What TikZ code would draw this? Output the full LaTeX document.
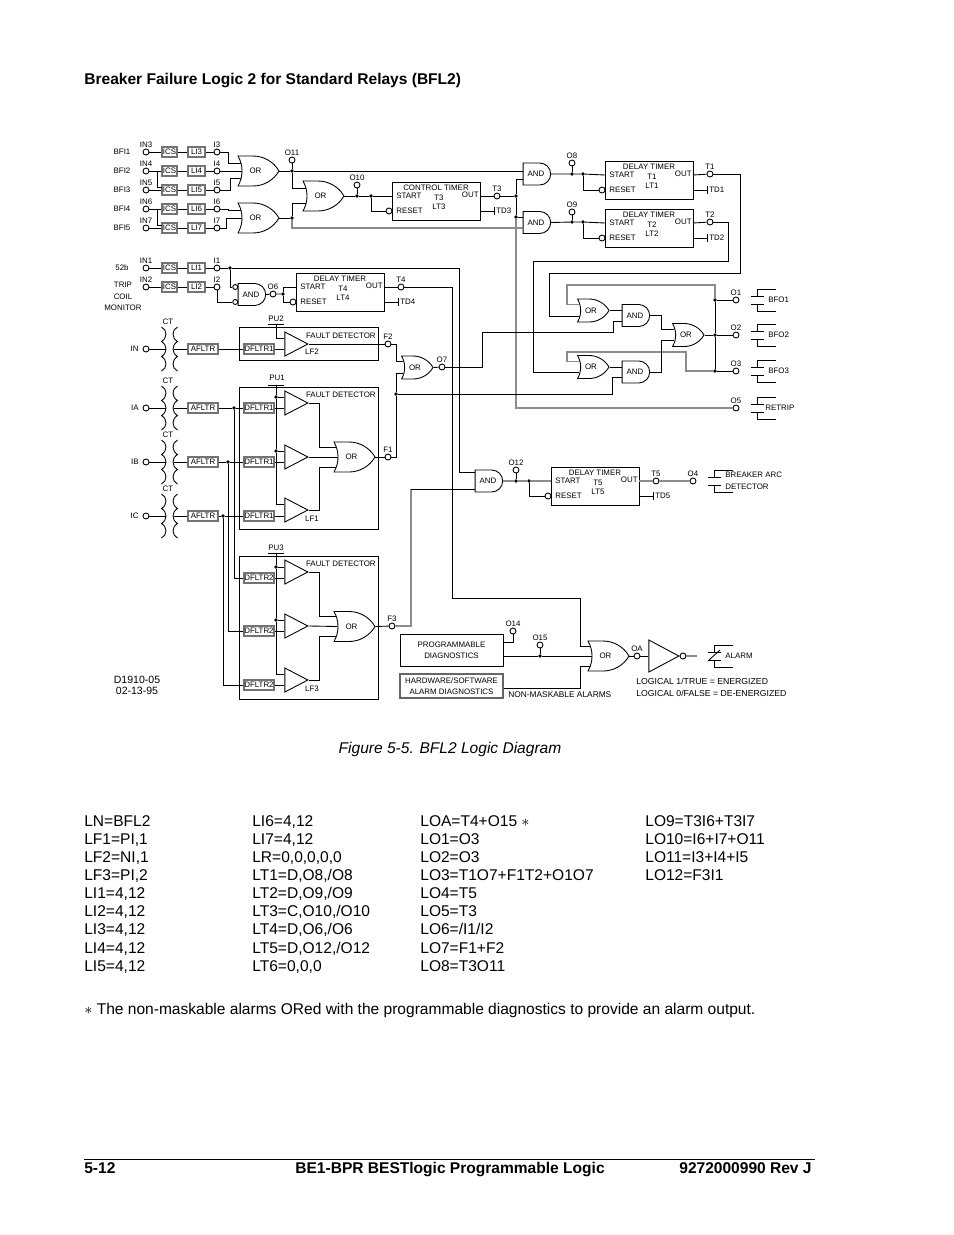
\documentclass[tikz,border=0pt]{standalone}
\usepackage{fontspec}
\setmainfont{Liberation Sans}
\usetikzlibrary{calc}
\usetikzlibrary{shapes.geometric, shapes.gates.logic.US}

\tikzset{
  wire/.style={line width=0.5pt},
  gwire/.style={line width=0.8pt, draw=black!45},
  lab/.style={font=\fontsize{4.5}{5.5}\selectfont, inner sep=0pt, align=center},
  body/.style={font=\fontsize{8.85}{10.27}\selectfont, inner sep=0pt, align=left, anchor=north west},
  tp/.style={circle, draw, line width=0.5pt, fill=white, inner sep=0pt, minimum size=0.12cm, label={[lab, label distance=0.02cm]above:#1}},
  bub/.style={circle, draw, line width=0.5pt, fill=white, inner sep=0pt, minimum size=0.12cm},
  dot/.style={circle, fill=black, inner sep=0pt, minimum size=0.075cm},
  fbox/.style={rectangle, draw=black!55, line width=0.7pt, inner sep=0pt, minimum width=#1, minimum height=0.2cm, lab},
  frame/.style={rectangle, draw, line width=0.5pt, anchor=north west, minimum width=2.78cm, minimum height=#1, inner sep=0pt},
  timer/.style={rectangle, draw, line width=0.5pt, anchor=north west, minimum width=1.76cm, minimum height=0.75cm, inner sep=0pt},
  blk/.style={rectangle, draw, line width=0.5pt, minimum width=2.06cm, minimum height=#1, inner sep=0pt, lab},
  gate/.style={draw, line width=0.5pt, lab, logic gate inverted radius=0.01cm},
  orbig/.style={or gate US, gate, logic gate inputs=nnn, logic gate input sep=0.15cm},
  orfive/.style={or gate US, gate, logic gate inputs=nnnnn, logic gate input sep=0.1cm},
  orsmall/.style={or gate US, gate, logic gate inputs=nnn, logic gate input sep=0.115cm},
  andsmall/.style={and gate US, gate, logic gate inputs=nnn, logic gate input sep=0.11cm},
  tri/.style={isosceles triangle, isosceles triangle stretches, draw, line width=0.5pt, anchor=apex, inner sep=0pt, minimum width=0.48cm, minimum height=0.46cm},
  coil/.pic={
    \draw[wire] (-8,-22) .. controls (-2,-19) and (-2,-11) .. (-8,-7.5) .. controls (-2,-4) and (-2,4) .. (-8,7.5) .. controls (-2,11) and (-2,19) .. (-8,22);
    \draw[wire] (8,-22) .. controls (2,-19) and (2,-11) .. (8,-7.5) .. controls (2,-4) and (2,4) .. (8,7.5) .. controls (2,11) and (2,19) .. (8,22);
    \coordinate (-w) at (-4,0);
    \coordinate (-e) at (4,0);
  },
  contact/.pic={
    \draw[wire] (-6.5,-4) -- (6.5,-4);
    \draw[wire] (-6.5,4) -- (6.5,4);
    \draw[wire] (0,-4) -- (0,-11) -- (19,-11);
    \draw[wire] (0,4) -- (0,11) -- (19,11);
  },
}

% start/reset box, with the test output bar beside it
\newcommand{\delaytimer}[7]{%
  \begin{scope}[shift={(#2,#3)}]
    \node[timer] (#1) at (0,0) {};
    \node[lab] (#1name) at (44,5.5) {#4};
    \node[lab, anchor=west] (#1st) at (4,14) {START};
    \node[lab, anchor=west] (#1rs) at (4,29) {RESET};
    \node[lab] (#1t) at (47,16) {#5};
    \node[lab] (#1lt) at (47,25) {#6};
    \node[lab, anchor=east] (#1ot) at (87,13) {OUT};
    \node[bub] (#1bub) at (-3,29) {};
    \coordinate (#1start) at (0,14);
    \coordinate (#1out) at (88,14);
    \coordinate (#1td) at (88,29);
    \coordinate (#1barT) at (102,25);
    \coordinate (#1barB) at (102,33);
    \coordinate (#1barM) at (102,29);
    \node[lab, anchor=west] (#1tdl) at (104,29) {#7};
    \draw[wire] (#1td) -- (#1barM);
    \draw[wire] (#1barT) -- (#1barB);
  \end{scope}
}

\begin{document}
\begin{tikzpicture}[x=0.02cm, y=-0.02cm]
  \useasboundingbox (0,0) rectangle (954,1235);
  \fill[white] (0,0) rectangle (954,1235);

  \node[anchor=base west, inner sep=0pt, font=\fontsize{8.85}{10}\selectfont\bfseries] (head) at (84,84) {Breaker Failure Logic 2 for Standard Relays (BFL2)};

  % inputs
  \node[lab] (bfi1) at (122,152) {BFI1};
  \node[lab] (bfi2) at (122,171) {BFI2};
  \node[lab] (bfi3) at (122,190) {BFI3};
  \node[lab] (bfi4) at (122,209) {BFI4};
  \node[lab] (bfi5) at (122,228) {BFI5};
  \node[lab] (l52b) at (122,268) {52b};
  \node[lab] (trip) at (123,296.5) {TRIP\\[1.2pt]COIL\\[1.2pt]MONITOR};

  \node[tp=IN3] (in3) at (146,152) {};
  \node[tp=IN4] (in4) at (146,171) {};
  \node[tp=IN5] (in5) at (146,190) {};
  \node[tp=IN6] (in6) at (146,209) {};
  \node[tp=IN7] (in7) at (146,228) {};
  \node[tp=IN1] (in1) at (146,268) {};
  \node[tp=IN2] (in2) at (146,287) {};

  \node[fbox=0.3cm] (ics3) at (169.5,152) {ICS};
  \node[fbox=0.3cm] (ics4) at (169.5,171) {ICS};
  \node[fbox=0.3cm] (ics5) at (169.5,190) {ICS};
  \node[fbox=0.3cm] (ics6) at (169.5,209) {ICS};
  \node[fbox=0.3cm] (ics7) at (169.5,228) {ICS};
  \node[fbox=0.3cm] (ics1) at (169.5,268) {ICS};
  \node[fbox=0.3cm] (ics2) at (169.5,287) {ICS};

  \node[fbox=0.34cm] (li3) at (196.5,152) {LI3};
  \node[fbox=0.34cm] (li4) at (196.5,171) {LI4};
  \node[fbox=0.34cm] (li5) at (196.5,190) {LI5};
  \node[fbox=0.34cm] (li6) at (196.5,209) {LI6};
  \node[fbox=0.34cm] (li7) at (196.5,228) {LI7};
  \node[fbox=0.34cm] (li1) at (196.5,268) {LI1};
  \node[fbox=0.34cm] (li2) at (196.5,287) {LI2};

  \node[tp=I3] (i3) at (217,152) {};
  \node[tp=I4] (i4) at (217,171) {};
  \node[tp=I5] (i5) at (217,190) {};
  \node[tp=I6] (i6) at (217,209) {};
  \node[tp=I7] (i7) at (217,228) {};
  \node[tp=I1] (i1) at (217,268) {};
  \node[tp=I2] (i2) at (217,287) {};

  \draw[wire] (in3) -- (ics3) -- (li3) -- (i3);
  \draw[wire] (in4) -- (ics4) -- (li4) -- (i4);
  \draw[wire] (in5) -- (ics5) -- (li5) -- (i5);
  \draw[wire] (in6) -- (ics6) -- (li6) -- (i6);
  \draw[wire] (in7) -- (ics7) -- (li7) -- (i7);
  \draw[wire] (in1) -- (ics1) -- (li1) -- (i1);
  \draw[wire] (in2) -- (ics2) -- (li2) -- (i2);

  \coordinate (tieA) at (157,171);
  \coordinate (tieB) at (162,187);
  \coordinate (tieC) at (157,209);
  \coordinate (tieD) at (162,225);
  \draw[wire] (tieA) |- (tieB);
  \draw[wire] (tieC) |- (tieD);

  % top gates
  \node[orbig] (orA) at (255.5,171) {OR};
  \node[orbig] (orB) at (255.5,218) {OR};
  \node[orbig] (orC) at (320.5,196) {OR};
  \node[andsmall] (andA) at (536,174) {AND};
  \node[andsmall] (andB) at (536,222.5) {AND};
  \node[dot] (jO11) at (292,171) {};
  \node[dot] (jOrB) at (292,218) {};
  \node[tp=O11] (o11) at (292,160) {};
  \node[dot] (jO10) at (357,196) {};
  \node[dot] (jCtl) at (371,196) {};
  \node[tp=O10] (o10) at (357,185) {};

  \delaytimer{tmC}{392}{182}{CONTROL TIMER}{T3}{LT3}{TD3}
  \delaytimer{tmA}{605}{161}{DELAY TIMER}{T1}{LT1}{TD1}
  \delaytimer{tmB}{605}{209}{DELAY TIMER}{T2}{LT2}{TD2}
  \delaytimer{tmD}{296}{273}{DELAY TIMER}{T4}{LT4}{TD4}
  \delaytimer{tmE}{551}{467}{DELAY TIMER}{T5}{LT5}{TD5}

  \draw[wire] (i3) -- ++(11,0) |- (orA.input 1);
  \draw[wire] (i4) -- (orA.input 2);
  \draw[wire] (i5) -- ++(13,0) |- (orA.input 3);
  \draw[wire] (i6) -- ++(11,0) |- (orB.input 1);
  \draw[wire] (i7) -- ++(9,0) |- (orB.input 2);
  \draw[wire] (orA.output) -- (jO11);
  \draw[wire] (orB.output) -- (jOrB);
  \draw[wire] (jO11) -- (o11);
  \draw[wire] (jO11) |- (orC.input 1);
  \draw[wire] (jOrB) |- (orC.input 3);
  \draw[wire] (jO11) -- (jO11 -| andA.input 1);
  \draw[gwire] (jOrB) |- (andB.input 3);
  \draw[wire] (orC.output) -- (jO10) -- (jCtl) -- (tmCstart);
  \draw[wire] (jO10) -- (o10);
  \draw[wire] (jCtl) |- (tmCbub);

  \node[tp=T3] (t3) at (497,196) {};
  \node[dot] (jT3) at (516,196) {};
  \node[dot] (jT3b) at (516,217) {};
  \draw[wire] (tmCout) -- (t3) -- (jT3);
  \draw[wire] (andA.input 3) -| (jT3);
  \draw[wire] (jT3) -- (jT3b);
  \draw[wire] (jT3b) -- (jT3b -| andB.input 1);

  \node[dot] (jO8) at (572,174) {};
  \node[dot] (jTmA) at (583,174) {};
  \node[tp=O8] (o8) at (572,163) {};
  \node[dot] (jO9) at (572,222) {};
  \node[dot] (jTmB) at (583,222) {};
  \node[tp=O9] (o9) at (572,212) {};
  \draw[wire] (andA.output) -- (jO8) -- (jTmA) -- (tmAstart);
  \draw[wire] (andB.output) -- (jO9) -- (jTmB) -- (tmBstart);
  \draw[wire] (jO8) -- (o8);
  \draw[wire] (jO9) -- (o9);
  \draw[wire] (jTmA) |- (tmAbub);
  \draw[wire] (jTmB) |- (tmBbub);
  \node[tp=T1] (t1) at (710,174) {};
  \node[tp=T2] (t2) at (710,222) {};
  \draw[wire] (tmAout) -- (t1);
  \draw[wire] (tmBout) -- (t2);

  % breaker failure outputs
  \node[orsmall] (orD) at (591,310.5) {OR};
  \node[andsmall] (andD) at (635,315.5) {AND};
  \node[orsmall] (orE) at (591,367) {OR};
  \node[andsmall] (andE) at (635,372) {AND};
  \node[orsmall] (orF) at (686,335) {OR};
  \node[dot] (jO1) at (715,300) {};
  \node[dot] (jO2) at (715,335) {};
  \node[dot] (jO3) at (715,371) {};
  \node[tp=O1] (o1) at (736,300) {};
  \node[tp=O2] (o2) at (736,335) {};
  \node[tp=O3] (o3) at (736,371) {};
  \node[tp=O5] (o5) at (736,408) {};

  \coordinate (t1R) at (740,273);
  \coordinate (t1L) at (549,273);
  \coordinate (t2R) at (728,261);
  \coordinate (t2L) at (533,261);
  \coordinate (topL) at (567,285);
  \coordinate (midR) at (686,352);
  \coordinate (midL) at (567,352);
  \coordinate (o7R) at (482,332);
  \coordinate (o7E) at (613,332);
  \coordinate (f1E) at (612,394);

  \draw[wire] (t1) -| (t1R) -- (t1L) |- (orD.input 3);
  \draw[wire] (t2) -| (t2R) -- (t2L) |- (orE.input 3);
  \draw[gwire] (jO1) |- (topL) |- (orD.input 1);
  \draw[gwire] (jO3) -| (midR) -- (midL) |- (orE.input 1);
  \draw[wire] (orD.output) -- (orD.output -| andD.input 1);
  \draw[wire] (orE.output) -- (orE.output -| andE.input 1);
  \draw[wire] (andD.output) -- ++(11,0) |- (orF.input 1);
  \draw[wire] (andE.output) -- ++(11,0) |- (orF.input 3);
  \draw[wire] (orF.output) -- (jO2);
  \draw[wire] (jO1) -- (jO2) -- (jO3);
  \draw[wire] (jO1) -- (o1);
  \draw[wire] (jO2) -- (o2);
  \draw[wire] (jO3) -- (o3);
  \draw[gwire] (jT3b) |- (o5);

  \pic (cA) at (757,300) {contact};
  \pic (cB) at (757,335) {contact};
  \pic (cC) at (757,371) {contact};
  \pic (cD) at (757,408) {contact};
  \node[lab, anchor=west] (bfo1) at (768,300) {BFO1};
  \node[lab, anchor=west] (bfo2) at (768,335) {BFO2};
  \node[lab, anchor=west] (bfo3) at (768,371) {BFO3};
  \node[lab, anchor=west] (retrip) at (765,408) {RETRIP};

  % 52b and trip coil
  \node[dot] (jI1) at (230,268) {};
  \node[andsmall] (andC) at (251,294.5) {AND};
  \node[bub, minimum size=0.1cm] (andCa) at ($(andC.input 1)+(-2.5,-2)$) {};
  \node[bub, minimum size=0.1cm] (andCb) at ($(andC.input 3)+(-2.5,2)$) {};
  \node[tp=O6] (o6) at (273,294) {};
  \node[dot] (jO6) at (283,294) {};
  \node[tp=T4] (t4) at (401,287) {};
  \coordinate (i1R) at (459,268);
  \coordinate (t4R) at (452,287);
  \coordinate (t4D) at (452,598);
  \coordinate (t4E) at (580,598);
  \draw[wire] (i1) -- (jI1) -- (i1R);
  \draw[wire] (jI1) |- (andCa);
  \draw[wire] (i2) |- (andCb);
  \draw[wire] (andC.output) -- (o6) -- (jO6);
  \draw[wire] (jO6) |- (tmDstart);
  \draw[wire] (jO6) |- (tmDbub);
  \draw[wire] (tmDout) -- (t4) -- (t4R);

  % fault detectors
  \node[frame=0.66cm] (fdA) at (239,327) {};
  \node[frame=2.84cm] (fdB) at (239,387) {};
  \node[frame=2.86cm] (fdC) at (239,556) {};
  \node[lab, anchor=east] (fdAt) at (376,336) {FAULT DETECTOR};
  \node[lab, anchor=east] (fdBt) at (376,395) {FAULT DETECTOR};
  \node[lab, anchor=east] (fdCt) at (376,564) {FAULT DETECTOR};

  \node[lab] (ctA) at (168,322) {CT};
  \node[lab] (ctB) at (168,381) {CT};
  \node[lab] (ctC) at (168,435) {CT};
  \node[lab] (ctD) at (168,489) {CT};
  \pic (cfA) at (169.5,349) {coil};
  \pic (cfB) at (169.5,408) {coil};
  \pic (cfC) at (169.5,462) {coil};
  \pic (cfD) at (169.5,516) {coil};
  \node[lab, anchor=east] (lIN) at (139,349) {IN};
  \node[lab, anchor=east] (lIA) at (139,408) {IA};
  \node[lab, anchor=east] (lIB) at (139,462) {IB};
  \node[lab, anchor=east] (lIC) at (139,516) {IC};
  \node[bub] (bIN) at (146,349) {};
  \node[bub] (bIA) at (146,408) {};
  \node[bub] (bIB) at (146,462) {};
  \node[bub] (bIC) at (146,516) {};
  \node[fbox=0.6cm] (afA) at (203,349) {AFLTR};
  \node[fbox=0.6cm] (afB) at (203,408) {AFLTR};
  \node[fbox=0.6cm] (afC) at (203,462) {AFLTR};
  \node[fbox=0.6cm] (afD) at (203,516) {AFLTR};
  \node[fbox=0.6cm] (dfA) at (259,349) {DFLTR1};
  \node[fbox=0.6cm] (dfB) at (259,408) {DFLTR1};
  \node[fbox=0.6cm] (dfC) at (259,462) {DFLTR1};
  \node[fbox=0.6cm] (dfD) at (259,516) {DFLTR1};
  \node[fbox=0.6cm] (dgA) at (259,578) {DFLTR2};
  \node[fbox=0.6cm] (dgB) at (259,631) {DFLTR2};
  \node[fbox=0.6cm] (dgC) at (259,685) {DFLTR2};

  \node[tri] (tA) at (309,344) {};
  \node[tri] (tB) at (309,403) {};
  \node[tri] (tC) at (309,457) {};
  \node[tri] (tD) at (309,510) {};
  \node[tri] (tE) at (309,572) {};
  \node[tri] (tF) at (309,626) {};
  \node[tri] (tG) at (309,680) {};
  \node[lab] (lf2) at (312,352) {LF2};
  \node[lab] (lf1) at (312,519) {LF1};
  \node[lab] (lf3) at (312,689) {LF3};

  \node[lab] (pu2) at (276,319) {PU2};
  \node[lab] (pu1) at (277,378) {PU1};
  \node[lab] (pu3) at (276,548) {PU3};
  \coordinate (pu2T) at (276,324);
  \coordinate (pu1T) at (276,385);
  \coordinate (pu3T) at (276,553);
  \draw[wire] ($(pu2T)+(-8,0)$) -- ($(pu2T)+(8,0)$);
  \draw[wire] ($(pu1T)+(-8,0)$) -- ($(pu1T)+(8,0)$);
  \draw[wire] ($(pu3T)+(-8,0)$) -- ($(pu3T)+(8,0)$);
  \node[dot] (jPa) at (276,397) {};
  \node[dot] (jPb) at (276,451) {};
  \node[dot] (jPc) at (276,567) {};
  \node[dot] (jPd) at (276,620) {};
  \node[dot] (jIA) at (234,408) {};
  \node[dot] (jIB) at (228,462) {};
  \node[dot] (jIC) at (223,516) {};

  \node[orfive] (orI) at (351.5,457) {OR};
  \node[orfive] (orJ) at (351.5,626.5) {OR};
  \node[orsmall] (orH) at (415,367.5) {OR};
  \node[tp=F2] (f2) at (388,344) {};
  \node[tp=F1] (f1) at (388,457) {};
  \node[tp=F3] (f3) at (392,626) {};
  \node[tp=O7] (o7) at (442,367) {};
  \node[dot] (jF1) at (396,394) {};
  \coordinate (f1R) at (396,457);
  \coordinate (f3T) at (411,489);

  \draw[wire] (bIN) -- (cfA-w);
  \draw[wire] (bIA) -- (cfB-w);
  \draw[wire] (bIB) -- (cfC-w);
  \draw[wire] (bIC) -- (cfD-w);
  \draw[wire] (cfA-e) -- (afA);
  \draw[wire] (cfB-e) -- (afB);
  \draw[wire] (cfC-e) -- (afC);
  \draw[wire] (cfD-e) -- (afD);
  \draw[wire] (afA) -- (dfA);
  \draw[wire] (afB) -- (jIA) -- (dfB);
  \draw[wire] (afC) -- (jIB) -- (dfC);
  \draw[wire] (afD) -- (jIC) -- (dfD);
  \draw[wire] (jIA) |- (dgA);
  \draw[wire] (jIB) |- (dgB);
  \draw[wire] (jIC) |- (dgC);

  \draw[wire] (dfA) -- (dfA -| tA.west);
  \draw[wire] (dfB) -- (dfB -| tB.west);
  \draw[wire] (dfC) -- (dfC -| tC.west);
  \draw[wire] (dfD) -- (dfD -| tD.west);
  \draw[wire] (dgA) -- (dgA -| tE.west);
  \draw[wire] (dgB) -- (dgB -| tF.west);
  \draw[wire] (dgC) -- (dgC -| tG.west);

  \draw[wire] (pu2T) |- ($(tA.west)+(0,-6)$);
  \draw[wire] (pu1T) -- (jPa) -- (jPb) |- ($(tD.west)+(0,-6)$);
  \draw[wire] (jPa) -- (jPa -| tB.west);
  \draw[wire] (jPb) -- (jPb -| tC.west);
  \draw[wire] (pu3T) -- (jPc) -- (jPd) |- ($(tG.west)+(0,-6)$);
  \draw[wire] (jPc) -- (jPc -| tE.west);
  \draw[wire] (jPd) -- (jPd -| tF.west);

  \draw[wire] (tA.apex) -- (f2);
  \draw[wire] (tB.apex) -- ++(10,0) |- (orI.input 1);
  \draw[wire] (tC.apex) -- (orI.input 3);
  \draw[wire] (tD.apex) -- ++(10,0) |- (orI.input 5);
  \draw[wire] (tE.apex) -- ++(10,0) |- (orJ.input 1);
  \draw[wire] (tF.apex) -- (orJ.input 3);
  \draw[wire] (tG.apex) -- ++(10,0) |- (orJ.input 5);
  \draw[wire] (orI.output) -- (f1);
  \draw[wire] (orJ.output) -- (f3);
  \draw[wire] (f2) -- ++(8,0) |- (orH.input 1);
  \draw[wire] (f1) -- (f1R) -- (jF1) |- (orH.input 3);
  \draw[wire] (orH.output) -- (o7);
  \draw[wire] (o7) -| (o7R) -- (o7E) |- (andD.input 3);
  \draw[wire] (jF1) -- (f1E) |- (andE.input 3);
  \draw[gwire] (f3) -| (f3T);

  % arc detector
  \node[andsmall] (andF) at (488,481) {AND};
  \node[dot] (jO12) at (516,481) {};
  \node[dot] (jTmE) at (529,481) {};
  \node[tp=O12] (o12) at (516,470) {};
  \node[tp=T5] (t5) at (656,481) {};
  \node[tp=O4] (o4) at (693,481) {};
  \draw[wire] (i1R) |- ($(andF.input 1)+(0,-3.5)$);
  \draw[wire] (f3T) -- (f3T -| andF.input 3);
  \draw[gwire] (andF.output) -- (jO12) -- (jTmE) -- (tmEstart);
  \draw[wire] (jO12) -- (o12);
  \draw[wire] (jTmE) |- (tmEbub);
  \draw[gwire] (tmEout) -- (t5) -- (o4);
  \pic (cE) at (714,481) {contact};
  \node[lab, anchor=west, align=left] (arc) at (725,480.5) {BREAKER ARC\\[1.2pt]DETECTOR};

  % alarm
  \node[blk=0.64cm] (prog) at (451.5,650) {PROGRAMMABLE\\[1pt]DIAGNOSTICS};
  \node[blk=0.48cm, draw=black!60, line width=0.8pt] (hwd) at (451.5,686) {HARDWARE/SOFTWARE\\[1pt]ALARM DIAGNOSTICS};
  \node[tp=O14] (o14) at (513,631) {};
  \node[tp=O15] (o15) at (540,645) {};
  \node[dot] (jO15) at (540,656) {};
  \coordinate (o14D) at (513,642);
  \coordinate (nmA) at (580,688);
  \node[lab, anchor=west, font=\fontsize{4.75}{5.5}\selectfont] (nonmask) at (508,695) {NON-MASKABLE ALARMS};
  \node[orfive] (orG) at (605.5,656) {OR};
  \node[tp=OA] (oa) at (637,656) {};
  \node[tri, minimum width=0.64cm, minimum height=0.6cm] (buf) at (680,656) {};
  \node[bub] (bufB) at (683,656) {};
  \coordinate (alR) at (697,656);
  \draw[wire] (prog.east |- o14D) -- (o14D) -- (o14);
  \draw[wire] (prog.east |- jO15) -- (jO15) -- (orG.input 3);
  \draw[wire] (jO15) -- (o15);
  \draw[wire] (hwd.east |- nmA) -- (nmA) |- (orG.input 5);
  \draw[wire] (t4R) -- (t4D) -- (t4E) |- (orG.input 1);
  \draw[wire] (orG.output) -- (oa) -- (buf.west);
  \draw[gwire] (bufB) -- (alR);
  \pic (cF) at (714,656) {contact};
  \draw[wire] (708,661) -- (720,650);
  \node[lab, anchor=west] (alarm) at (725,656) {ALARM};
  \node[lab, anchor=west, align=left, font=\fontsize{4.95}{5.5}\selectfont] (logic) at (636,687.5) {LOGICAL 1/TRUE = ENERGIZED\\[1pt]LOGICAL 0/FALSE = DE-ENERGIZED};
  \node[lab, align=center, font=\fontsize{6}{6.5}\selectfont] (dwg) at (137,685.5) {D1910-05\\02-13-95};

  \node[inner sep=0pt, font=\fontsize{8.85}{10}\selectfont\itshape] (caption) at (450,749) {Figure 5-5. BFL2 Logic Diagram};

  % settings
  \node[body] (colA) at (84,815.5) {LN=BFL2\\LF1=PI,1\\LF2=NI,1\\LF3=PI,2\\LI1=4,12\\LI2=4,12\\LI3=4,12\\LI4=4,12\\LI5=4,12};
  \node[body] (colB) at (252,815.5) {LI6=4,12\\LI7=4,12\\LR=0,0,0,0,0\\LT1=D,O8,/O8\\LT2=D,O9,/O9\\LT3=C,O10,/O10\\LT4=D,O6,/O6\\LT5=D,O12,/O12\\LT6=0,0,0};
  \node[body] (colC) at (420,815.5) {LOA=T4+O15 $*$\\LO1=O3\\LO2=O3\\LO3=T1O7+F1T2+O1O7\\LO4=T5\\LO5=T3\\LO6=/I1/I2\\LO7=F1+F2\\LO8=T3O11};
  \node[body] (colD) at (645,815.5) {LO9=T3I6+T3I7\\LO10=I6+I7+O11\\LO11=I3+I4+I5\\LO12=F3I1};
  \node[body] (note) at (84,1002.5) {$*$ The non-maskable alarms ORed with the programmable diagnostics to provide an alarm output.};

  % page foot
  \coordinate (ruleL) at (84,1159);
  \coordinate (ruleR) at (815,1159);
  \draw[line width=0.5pt] (ruleL) -- (ruleR);
  \node[anchor=base west, inner sep=0pt, font=\fontsize{8.85}{10}\selectfont\bfseries] (footA) at (84,1173) {5-12};
  \node[anchor=base west, inner sep=0pt, font=\fontsize{8.85}{10}\selectfont\bfseries] (footB) at (295,1173) {BE1-BPR BESTlogic Programmable Logic};
  \node[anchor=base east, inner sep=0pt, font=\fontsize{8.85}{10}\selectfont\bfseries] (footC) at (812,1173) {9272000990 Rev J};
\end{tikzpicture}
\end{document}
